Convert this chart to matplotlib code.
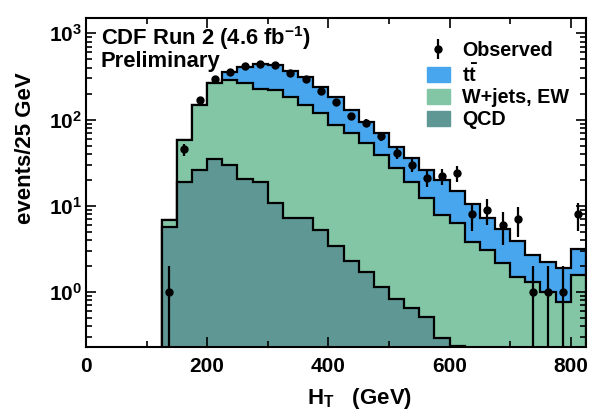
import numpy as np
import matplotlib

matplotlib.use("Agg")
import matplotlib.pyplot as plt
from matplotlib.patches import Patch
from matplotlib.ticker import MultipleLocator, LogLocator, NullFormatter

plt.rcParams["font.family"] = ["Liberation Sans", "DejaVu Sans"]
plt.rcParams["font.weight"] = "bold"
plt.rcParams["mathtext.fontset"] = "custom"
plt.rcParams["mathtext.rm"] = "Liberation Sans:bold"
plt.rcParams["mathtext.bf"] = "Liberation Sans:bold"
plt.rcParams["mathtext.it"] = "Liberation Sans:bold"
plt.rcParams["mathtext.default"] = "rm"

# 25 GeV bins, 125 -> 825 GeV
edges = np.arange(125, 826, 25)

# cumulative stack tops (QCD, QCD + W+jets/EW, + ttbar)
qcd = [5.7, 19.0, 25.9, 34.8, 29.6, 20.4, 19.0, 10.7, 7.3, 7.3,
       5.2, 3.4, 2.3, 1.72, 1.15, 0.83, 0.65, 0.51, 0.29, 0.24]
wjets_cum = [6.8, 57.7, 147, 262, 286, 262, 229, 219, 183, 147,
             118, 86, 69, 53, 38.6, 27.3, 18.8, 12.3, 7.8, 6.25,
             3.8, 3.07, 2.17, 1.49, 1.31, 1.0, 0.77, 1.57]
ttbar_cum = [6.9, 58.5, 149, 269, 357, 408, 439, 427, 367, 312,
             239, 183, 128, 93, 70, 48, 35.7, 25.9, 19.9, 14.9,
             10.4, 7.3, 5.37, 3.92, 2.68, 2.21, 1.9, 3.2]

observed = [1, 45, 168, 292, 357, 416, 439, 427, 348, 292,
            213, 159, 110, 92, 64, 41, 30, 21, 22, 24,
            8, 9, 6, 7, 1, 1, 1, 8]

c_tt = "#47a6ee"
c_w = "#82c6a6"
c_qcd = "#5f9794"

fig = plt.figure(figsize=(5.93, 4.12), dpi=100)
ax = fig.add_axes([0.145, 0.157, 0.843, 0.799])

base = 1e-3
ax.stairs(ttbar_cum, edges, baseline=base, fill=True, facecolor=c_tt,
          edgecolor="none")
ax.stairs(ttbar_cum, edges, baseline=base, color="black", lw=1.6)
ax.stairs(wjets_cum, edges, baseline=base, fill=True, facecolor=c_w,
          edgecolor="none")
ax.stairs(wjets_cum, edges, baseline=base, color="black", lw=1.6)
qcd_edges = edges[:len(qcd) + 1]
ax.stairs(qcd, qcd_edges, baseline=base, fill=True, facecolor=c_qcd,
          edgecolor="none")
ax.stairs(qcd, qcd_edges, baseline=base, color="black", lw=1.6)

centers = 0.5 * (edges[:-1] + edges[1:])
obs = np.array(observed, dtype=float)
err = np.sqrt(obs)
lo = np.minimum(err, obs - 1e-4)
eb = ax.errorbar(centers, obs, yerr=[lo, err], fmt="o", color="black",
                 ms=5, lw=1.6, capsize=0)

ax.set_yscale("log")
ax.set_xlim(0, 825)
ax.set_ylim(0.229, 1500)

ax.xaxis.set_major_locator(MultipleLocator(200))
ax.xaxis.set_minor_locator(MultipleLocator(100))
ax.yaxis.set_major_locator(LogLocator(base=10, numticks=10))
ax.yaxis.set_minor_locator(LogLocator(base=10, subs=np.arange(2, 10), numticks=20))
ax.yaxis.set_minor_formatter(NullFormatter())
ax.tick_params(which="both", direction="in", top=True, right=True,
               labelsize=15, width=1.2)
ax.tick_params(which="major", length=7)
ax.tick_params(which="minor", length=4)
ax.tick_params(axis="x", which="major", pad=7)
ax.tick_params(axis="y", which="major", pad=3)
for s in ax.spines.values():
    s.set_linewidth(1.5)

ax.set_xlabel(r"H$_\mathrm{T}$   (GeV)", fontsize=16, fontweight="bold",
              ha="right", va="baseline")
ax.xaxis.set_label_coords(0.652, -0.172)
ax.set_ylabel("events/25 GeV", fontsize=16, fontweight="bold", va="center")
ax.yaxis.set_label_coords(-0.12, 0.604)

ax.text(0.03, 0.918, r"CDF Run 2 (4.6 fb$^{-1}$)", transform=ax.transAxes,
        fontsize=15.8, fontweight="bold", va="baseline", ha="left")
ax.text(0.03, 0.851, "Preliminary", transform=ax.transAxes,
        fontsize=15.8, fontweight="bold", va="baseline", ha="left")

handles = [eb, Patch(color=c_tt), Patch(color=c_w), Patch(color=c_qcd)]
labels = [r"$\mathrm{t\bar{t}}$" if i == 1 else l for i, l in
          enumerate(["Observed", "tt", "W+jets, EW", "QCD"])]
ax.legend(handles, labels, loc="upper left", bbox_to_anchor=(0.682, 0.93),
          frameon=False, fontsize=14.2, handlelength=1.17, handleheight=0.76,
          labelspacing=0.15, borderaxespad=0.0, borderpad=0.0,
          handletextpad=0.6)

fig.savefig("out.png", dpi=100)
